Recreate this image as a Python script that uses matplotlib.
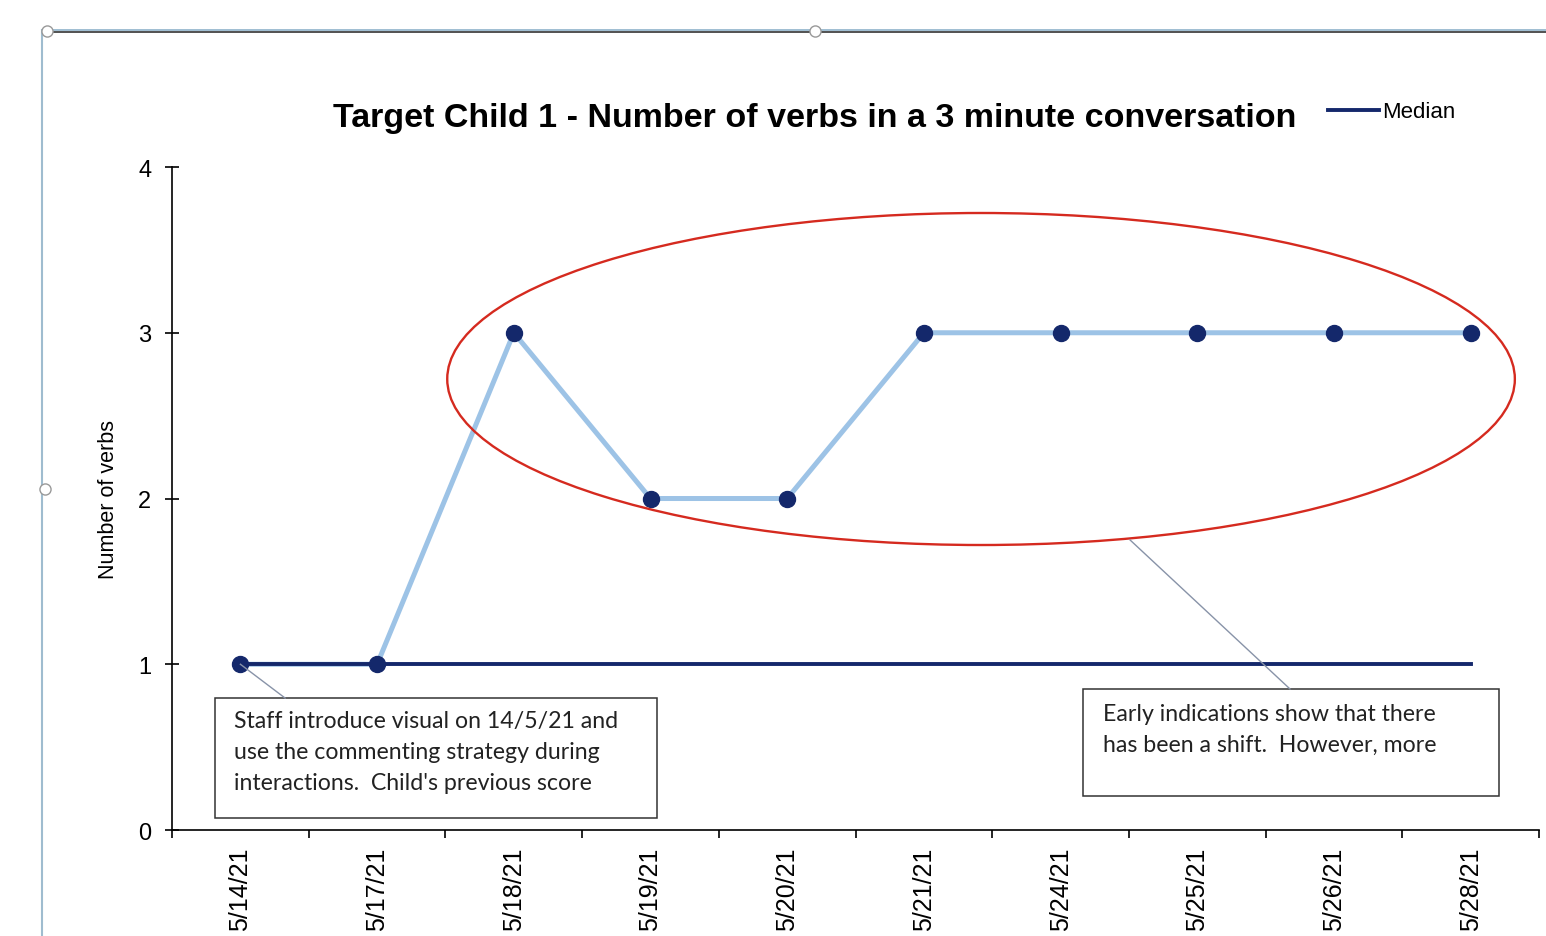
import matplotlib
matplotlib.use('Agg')
import matplotlib.pyplot as plt
from matplotlib.lines import Line2D
from matplotlib.patches import Ellipse, Rectangle

plt.rcParams['font.family'] = ['Liberation Sans', 'DejaVu Sans']

dates = ['5/14/21', '5/17/21', '5/18/21', '5/19/21', '5/20/21',
         '5/21/21', '5/24/21', '5/25/21', '5/26/21', '5/28/21']
verbs = [1, 1, 3, 2, 2, 3, 3, 3, 3, 3]
median = [1, 1, 1, 1, 1, 1, 1, 1, 1, 1]

note_left = "Staff introduce visual on 14/5/21 and\nuse the commenting strategy during\ninteractions.  Child's previous score"
note_right = "Early indications show that there\nhas been a shift.  However, more"

navy = '#14286b'
light = '#9dc3e6'

fig = plt.figure(figsize=(15.46, 9.37), dpi=100)
ax = fig.add_axes([0.1113, 0.1131, 0.8842, 0.7076])

x = list(range(len(dates)))
ax.plot(x, verbs, color=light, lw=3.6, zorder=3)
ax.plot(x, verbs, 'o', color=navy, ms=11.5, zorder=5)
med_line, = ax.plot(x, median, color=navy, lw=2.8, zorder=4, label='Median')

ax.set_xlim(-0.5, len(dates) - 0.5)
ax.set_ylim(0, 4)
ax.set_yticks([0, 1, 2, 3, 4])
ax.set_xticks(x)
ax.set_xticklabels(dates, rotation=90, fontsize=18)
ax.set_xticks([i - 0.5 for i in range(len(dates) + 1)], minor=True)
ax.tick_params(axis='x', which='major', length=0, pad=12)
ax.tick_params(axis='x', which='minor', length=6, width=1.2, direction='out')
ax.tick_params(axis='y', direction='inout', length=10, width=1.2, labelsize=17, pad=10)
for s in ['top', 'right']:
    ax.spines[s].set_visible(False)
for s in ['left', 'bottom']:
    ax.spines[s].set_linewidth(1.2)
ax.set_ylabel('Number of verbs', fontsize=15.5, labelpad=14)

# ellipse around the later points
ax.add_patch(Ellipse((5.418, 2.721), 7.81, 2.003, fill=False, edgecolor='#d52a1f', lw=1.7, zorder=6))

# callout boxes
ax.add_patch(Rectangle((-0.185, 0.072), 3.233, 0.724, fill=False, edgecolor='#333333', lw=1.1, zorder=6, clip_on=False))
ax.add_patch(Rectangle((6.164, 0.205), 3.043, 0.646, fill=False, edgecolor='#333333', lw=1.1, zorder=6, clip_on=False))
ax.text(-0.045, 0.725, note_left, fontsize=16.7, family='Lato', va='top', ha='left', linespacing=1.6, color='#222222')
ax.text(6.31, 0.767, note_right, fontsize=16.7, family='Lato', va='top', ha='left', linespacing=1.6, color='#222222')
ax.plot([0, 0.327], [1.0, 0.796], color='#8893a8', lw=1, zorder=6)
ax.plot([6.508, 7.678], [1.75, 0.851], color='#8893a8', lw=1, zorder=6)

fig.text(0.527, 0.874, 'Target Child 1 - Number of verbs in a 3 minute conversation',
         fontsize=24.5, fontweight='bold', ha='center', va='center')
ax.legend(handles=[med_line], loc='center left', bbox_to_anchor=(1328 / 1546, 1 - 113 / 937),
          bbox_transform=fig.transFigure, frameon=False, fontsize=16, handlelength=2.3,
          handletextpad=0.15, borderpad=0, borderaxespad=0)

# screenshot frame of the chart object
fig.add_artist(Line2D([42 / 1546, 1], [1 - 31 / 937] * 2, transform=fig.transFigure, color='#8fb3cb', lw=1.2))
fig.add_artist(Line2D([44 / 1546, 1], [1 - 33 / 937] * 2, transform=fig.transFigure, color='#333333', lw=1.2))
fig.add_artist(Line2D([42 / 1546] * 2, [0, 1 - 31 / 937], transform=fig.transFigure, color='#9fbccf', lw=1.5))
for hx, hy in [(47, 32), (815, 32), (45, 490)]:
    fig.add_artist(Line2D([hx / 1546], [1 - hy / 937], transform=fig.transFigure, marker='o', ms=8,
                          markerfacecolor='white', markeredgecolor='#999999', lw=0))

plt.savefig('out.png', dpi=100)
